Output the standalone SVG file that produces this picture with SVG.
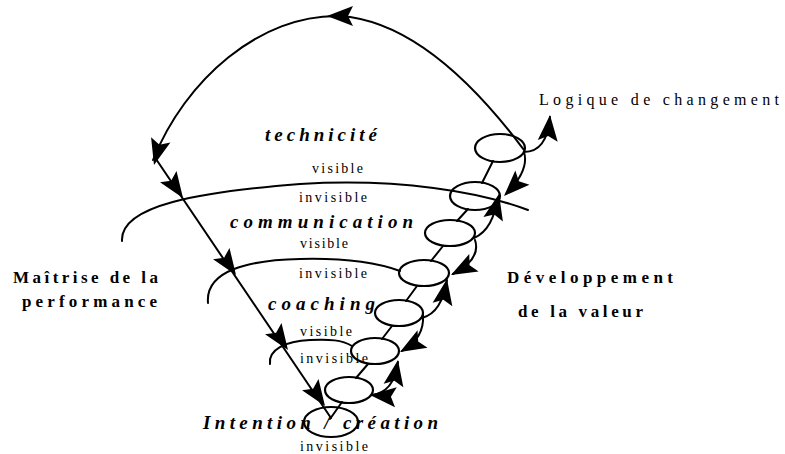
<svg xmlns="http://www.w3.org/2000/svg" xmlns:xlink="http://www.w3.org/1999/xlink" width="785" height="454" viewBox="0 0 785 454">
<style>
.ln{fill:none;stroke:#000;stroke-width:2;stroke-linecap:round}
.el{fill:none;stroke:#000;stroke-width:2.2}
.lvl{font-family:"Liberation Serif",serif;font-weight:bold;font-style:italic;font-size:19px;fill:#000}
.vis{font-family:"Liberation Serif",serif;font-size:14px;fill:#000}
.lab{font-family:"Liberation Serif",serif;font-weight:bold;font-size:17px;fill:#000}
.lab2{font-family:"Liberation Serif",serif;font-size:16px;fill:#000}
</style>
<defs>
<path id="ah" d="M0,0 L-26,-10 L-21,0 L-26,10 Z" fill="#000"/>
</defs>
<rect width="785" height="454" fill="#fff"/>
<g id="connectors">
<path class="ln" d="M524,150 C505,125 430,22 340,16 C260,14 185,80 153,160"/>
<path class="ln" d="M156,159 L331,418"/>
<path class="ln" d="M122,241 C120,205 200,192 300,184 C400,178 480,192 528,210"/>
<path class="ln" d="M208,303 C205,270 250,260 300,259 C340,258 375,262 400,271"/>
<path class="ln" d="M270,364 C268,350 285,341 310,340 C330,339 342,340 352,346"/>
<path class="ln" d="M493,161 L482,183"/>
<path class="ln" d="M468,209 L457,221"/>
<path class="ln" d="M443,246 L431,261"/>
<path class="ln" d="M417,286 L406,301"/>
<path class="ln" d="M392,326 L382,339"/>
<path class="ln" d="M368,364 L356,378"/>
<path class="ln" d="M342,402 L330,419"/>
<path class="ln" d="M524,152 C528,165 522,178 506,194"/>
<path class="ln" d="M524,152 C540,152 548,140 550,117"/>
<path class="ln" d="M474,238 C488,232 494,218 499,196"/>
<path class="ln" d="M475,240 C479,252 472,264 453,274"/>
<path class="ln" d="M422,318 C436,314 443,302 447,280"/>
<path class="ln" d="M423,315 C424,330 418,342 402,351"/>
<path class="ln" d="M372,395 C385,393 395,385 398,362"/>
<use xlink:href="#ah" transform="translate(327,16) rotate(180)"/>
<use xlink:href="#ah" transform="translate(154,165) rotate(105)"/>
<use xlink:href="#ah" transform="translate(183,198) rotate(55.5)"/>
<use xlink:href="#ah" transform="translate(236,275) rotate(55.5)"/>
<use xlink:href="#ah" transform="translate(288,350) rotate(55.5)"/>
<use xlink:href="#ah" transform="translate(325,406) rotate(55.5)"/>
<use xlink:href="#ah" transform="translate(504,196) rotate(135)"/>
<use xlink:href="#ah" transform="translate(550,115) rotate(-85)"/>
<use xlink:href="#ah" transform="translate(499,194) rotate(-77)"/>
<use xlink:href="#ah" transform="translate(451,275) rotate(152)"/>
<use xlink:href="#ah" transform="translate(447,279) rotate(-80)"/>
<use xlink:href="#ah" transform="translate(400,352) rotate(150)"/>
<use xlink:href="#ah" transform="translate(398,360) rotate(-80)"/>
<use xlink:href="#ah" transform="translate(370,395) rotate(185)"/>
</g>
<g id="e1"><ellipse class="el" cx="500" cy="148" rx="25" ry="14"/></g>
<g id="e2"><ellipse class="el" cx="475" cy="196" rx="25" ry="14"/></g>
<g id="e3"><ellipse class="el" cx="450" cy="233" rx="25" ry="13"/></g>
<g id="e4"><ellipse class="el" cx="424" cy="273" rx="25" ry="13"/></g>
<g id="e5"><ellipse class="el" cx="399" cy="313" rx="24" ry="13"/></g>
<g id="e6"><ellipse class="el" cx="375" cy="351" rx="24" ry="13"/></g>
<g id="e7"><ellipse class="el" cx="349" cy="390" rx="24" ry="13"/></g>
<g id="e8"><ellipse class="el" cx="331" cy="422" rx="27" ry="15"/></g>
<g id="technicite">
<text class="lvl" x="265" y="141" textLength="112" lengthAdjust="spacing">technicité</text>
<text class="vis" x="312" y="173" textLength="51" lengthAdjust="spacing">visible</text>
<text class="vis" x="299" y="202" textLength="68" lengthAdjust="spacing">invisible</text>
</g>
<g id="communication">
<text class="lvl" x="230" y="228" textLength="183" lengthAdjust="spacing">communication</text>
<text class="vis" x="300" y="248" textLength="48" lengthAdjust="spacing">visible</text>
<text class="vis" x="299" y="278" textLength="68" lengthAdjust="spacing">invisible</text>
</g>
<g id="coaching">
<text class="lvl" x="268" y="310" textLength="107" lengthAdjust="spacing">coaching</text>
<text class="vis" x="300" y="336" textLength="52" lengthAdjust="spacing">visible</text>
<text class="vis" x="300" y="363" textLength="68" lengthAdjust="spacing">invisible</text>
</g>
<g id="intention">
<text class="lvl" x="203" y="429" textLength="235" lengthAdjust="spacing">Intention / création</text>
<text class="vis" x="300" y="451" textLength="68" lengthAdjust="spacing">invisible</text>
</g>
<g id="maitrise">
<text class="lab" x="13" y="283" textLength="145" lengthAdjust="spacing">Maîtrise de la</text>
<text class="lab" x="22" y="307" textLength="135" lengthAdjust="spacing">performance</text>
</g>
<g id="developpement">
<text class="lab" x="507" y="283" textLength="166" lengthAdjust="spacing">Développement</text>
<text class="lab" x="518" y="317" textLength="125" lengthAdjust="spacing">de la valeur</text>
</g>
<g id="logique">
<text class="lab2" x="539" y="105" textLength="240" lengthAdjust="spacing">Logique de changement</text>
</g>
</svg>
